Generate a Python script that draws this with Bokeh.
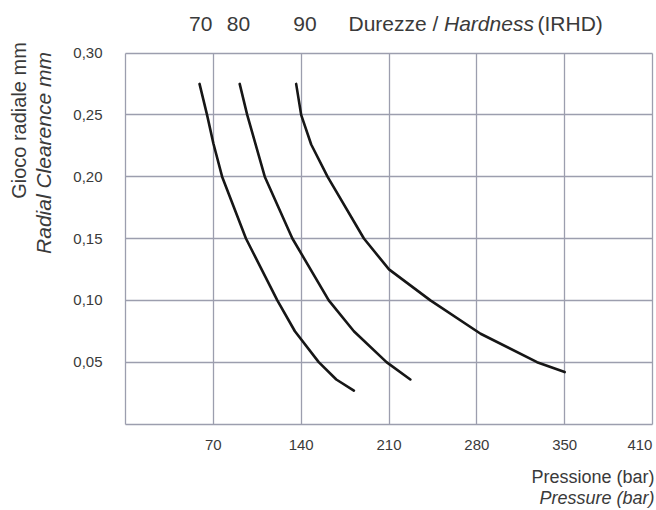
import math
from bokeh.plotting import figure
from bokeh.models import Range1d, FixedTicker, Label, BoxAnnotation
from bokeh.embed import file_html
from bokeh.resources import INLINE

# ---- data ----
hardness_labels = ["70", "80", "90"]
hardness_label_pressure = [60, 90, 143]

p70_pressure = [59, 65, 70, 77, 96, 121, 135, 154, 168, 182]
p70_clearance = [0.275, 0.25, 0.227, 0.20, 0.15, 0.10, 0.075, 0.05, 0.036, 0.027]

p80_pressure = [91, 97, 111, 133, 162, 182, 208, 227]
p80_clearance = [0.275, 0.25, 0.20, 0.15, 0.10, 0.075, 0.05, 0.036]

p90_pressure = [136, 140, 148, 161, 190, 210, 243, 283, 328, 350]
p90_clearance = [0.275, 0.25, 0.226, 0.20, 0.15, 0.125, 0.10, 0.073, 0.05, 0.042]

x_ticks = [70, 140, 210, 280, 350, 410]
x_tick_labels = ["70", "140", "210", "280", "350", "410"]
x_grid = [0, 70, 140, 210, 280, 350, 420]
y_ticks = [0.05, 0.10, 0.15, 0.20, 0.25, 0.30]
y_tick_labels = ["0,05", "0,10", "0,15", "0,20", "0,25", "0,30"]
y_grid = [0, 0.05, 0.10, 0.15, 0.20, 0.25, 0.30]
X_MIN, X_MAX = 0, 420
Y_MIN, Y_MAX = 0, 0.30

FONT = "Liberation Sans"
TXT = "#3a3a3a"
GRID = "#9c9eae"

W, H = 656, 510
# plot area inside the canvas (pixels): left, right, top, bottom
L, R, T, B = 125, 652, 52.5, 423.5
kx = (R - L) / (X_MAX - X_MIN)
ky = (B - T) / (Y_MAX - Y_MIN)

p = figure(width=W, height=H, output_backend="svg", toolbar_location=None, title=None,
           x_range=Range1d(X_MIN - L / kx, X_MAX + (W - R) / kx),
           y_range=Range1d(Y_MIN - (H - B) / ky, Y_MAX + T / ky),
           min_border=0)
p.background_fill_color = "white"
p.border_fill_color = "white"
p.outline_line_color = None

xg, yg = p.xgrid[0], p.ygrid[0]
xg.ticker = FixedTicker(ticks=x_grid)
yg.ticker = FixedTicker(ticks=y_grid)
for g in (xg, yg):
    g.grid_line_color = GRID
    g.grid_line_width = 1.3
if "cross_bounds" in xg.properties():
    xg.cross_bounds = (Y_MIN, Y_MAX)
    yg.cross_bounds = (X_MIN, X_MAX)
else:
    pad_x, pad_y = 0.7 / kx, 0.7 / ky
    for kw in (dict(bottom=Y_MAX + pad_y), dict(top=Y_MIN - pad_y),
               dict(right=X_MIN - pad_x), dict(left=X_MAX + pad_x)):
        p.add_layout(BoxAnnotation(fill_color="white", fill_alpha=1,
                                   line_color=None, level="underlay", **kw))

p.xaxis.fixed_location = 0
p.yaxis.fixed_location = 0
p.xaxis.ticker = FixedTicker(ticks=x_ticks)
p.xaxis.major_label_overrides = {t: l for t, l in zip(x_ticks, x_tick_labels)}
p.yaxis.ticker = FixedTicker(ticks=y_ticks)
p.yaxis.major_label_overrides = {t: l for t, l in zip(y_ticks, y_tick_labels)}
for ax in (p.xaxis, p.yaxis):
    ax.axis_line_color = None
    ax.major_tick_line_color = None
    ax.minor_tick_line_color = None
    ax.major_tick_out = 0
    ax.major_tick_in = 0
    ax.major_label_text_font = FONT
    ax.major_label_text_font_size = "15px"
    ax.major_label_text_color = TXT
p.xaxis.major_label_standoff = 16
p.yaxis.major_label_standoff = 23

for xs, ys in ((p70_pressure, p70_clearance), (p80_pressure, p80_clearance),
               (p90_pressure, p90_clearance)):
    p.line(xs, ys, line_color="#161616", line_width=2.6, line_cap="round",
           line_join="round")

def lab(text, x, y, size, style="normal", align="left", angle=0, xu="screen"):
    # screen y measured upward from the bottom of the canvas
    p.add_layout(Label(x=x, y=y, x_units=xu, y_units="screen", text=text,
                       text_font=FONT, text_font_size=size,
                       text_font_style=style, text_color=TXT,
                       text_align=align, text_baseline="middle", angle=angle))

# header line above the plot
for t, xv in zip(hardness_labels, hardness_label_pressure):
    lab(t, xv, H - 23, "21px", align="center", xu="data")
lab("Durezze / ", 348, H - 23, "21px")
lab("Hardness", 443.5, H - 23, "21px", style="italic")
lab("(IRHD)", 537, H - 23, "21px")

# y axis title (two lines, rotated)
lab("Gioco radiale mm", 18, H - 120, "20px", align="center", angle=math.pi / 2)
lab("Radial Clearence mm", 43, H - 152.5, "21px", style="italic", align="center",
    angle=math.pi / 2)

# x axis title
lab("Pressione (bar)", 654, H - 476, "18px", align="right")
lab("Pressure (bar)", 654, H - 497, "18px", style="italic", align="right")

open("out.html", "w").write(file_html(p, INLINE))
